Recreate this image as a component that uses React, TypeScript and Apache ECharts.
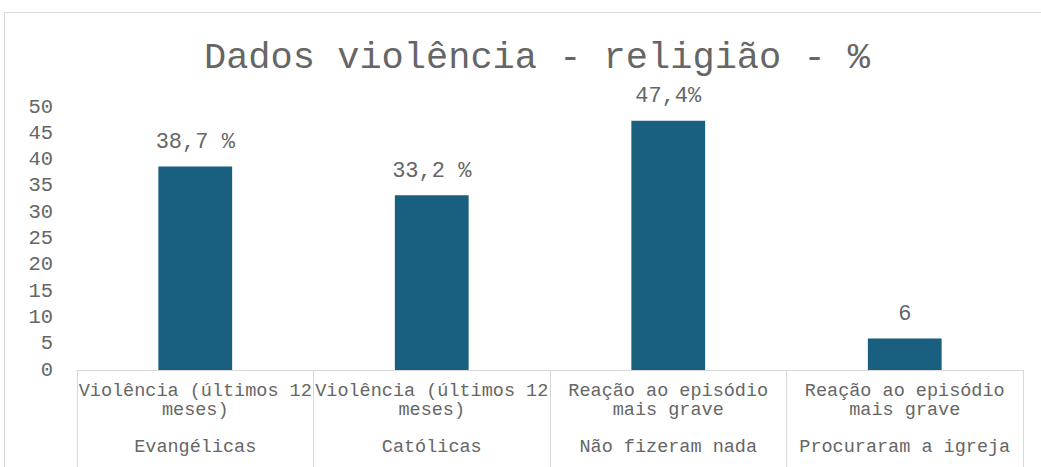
import React, { useEffect, useRef } from "react";
import * as echarts from "echarts";

const titleText = "Dados violência - religião - %";
const categories = [
  "Violência (últimos 12\nmeses)",
  "Violência (últimos 12\nmeses)",
  "Reação ao episódio\nmais grave",
  "Reação ao episódio\nmais grave",
];
const groups = ["Evangélicas", "Católicas", "Não fizeram nada", "Procuraram a igreja"];
const values = [38.7, 33.2, 47.4, 6];
const valueLabels = ["38,7 %", "33,2 %", "47,4%", "6"];

const FONT = "'Liberation Mono', 'Courier New', monospace";
const GRAY = "#666666";
const LINE = "#d9d9d9";

export default function App() {
  const ref = useRef<HTMLDivElement>(null);
  useEffect(() => {
    if (!ref.current) return;
    const chart = echarts.init(ref.current, undefined, { renderer: "svg" });
    chart.setOption({
      animation: false,
      backgroundColor: "#ffffff",
      graphic: [
        {
          type: "rect",
          shape: { x: 4.5, y: 12.5, width: 1200, height: 700 },
          style: { fill: "none", stroke: LINE, lineWidth: 1 },
          silent: true,
        },
      ],
      title: {
        text: titleText,
        left: 532,
        top: 34,
        textAlign: "center",
        textStyle: { fontFamily: FONT, fontSize: 37, fontWeight: "normal", color: GRAY },
      },
      grid: { left: 77, right: 18, top: 107, bottom: 97, containLabel: false },
      xAxis: [
        {
          type: "category",
          data: categories,
          position: "bottom",
          axisLine: { show: true, lineStyle: { color: LINE, width: 1 } },
          axisTick: { show: true, length: 110, interval: 0, lineStyle: { color: LINE, width: 1 } },
          axisLabel: {
            interval: 0,
            margin: 12,
            fontFamily: FONT,
            fontSize: 18.5,
            lineHeight: 19,
            color: GRAY,
          },
        },
        {
          type: "category",
          data: groups,
          position: "bottom",
          axisLine: { show: false },
          axisTick: { show: false },
          axisLabel: {
            interval: 0,
            margin: 68,
            fontFamily: FONT,
            fontSize: 18.5,
            lineHeight: 19,
            color: GRAY,
          },
        },
      ],
      yAxis: {
        type: "value",
        min: 0,
        max: 50,
        interval: 5,
        axisLine: { show: false },
        axisTick: { show: false },
        splitLine: { show: false },
        axisLabel: { margin: 24, fontFamily: FONT, fontSize: 20.5, color: GRAY },
      },
      series: [
        {
          type: "bar",
          xAxisIndex: 0,
          barWidth: "31.2%",
          itemStyle: { color: "#185F80" },
          data: values,
          label: {
            show: true,
            position: "top",
            distance: 13,
            fontFamily: FONT,
            fontSize: 22,
            color: GRAY,
            formatter: (p: any) => valueLabels[p.dataIndex],
          },
        },
      ],
    });
    return () => chart.dispose();
  }, []);
  return (
    <div
      ref={ref}
      style={{ position: "absolute", left: 0, top: 0, width: 1041, height: 467 }}
    />
  );
}
